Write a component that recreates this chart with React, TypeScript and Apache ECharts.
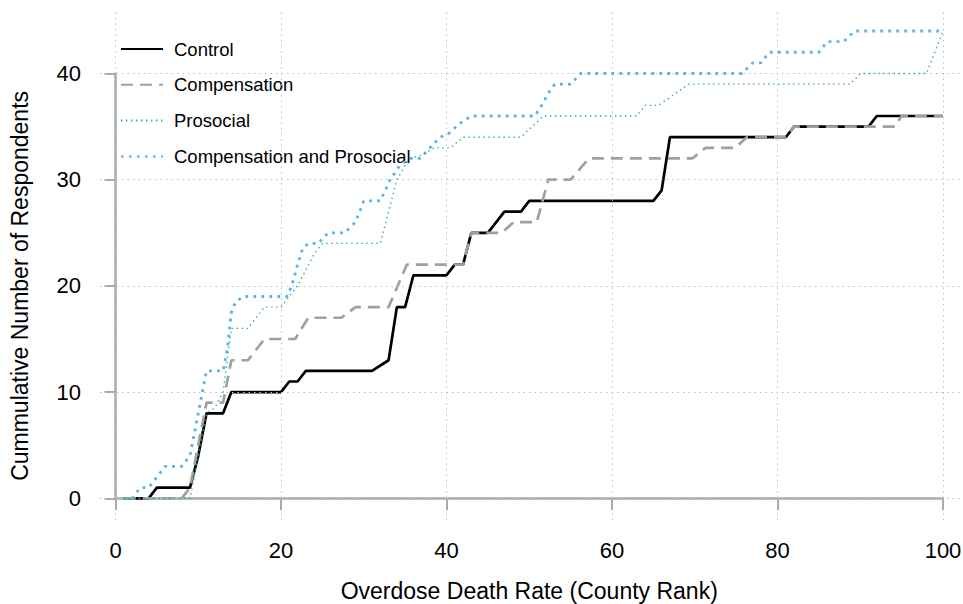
import React, { useEffect, useRef } from "react";
import * as echarts from "echarts";

// ---------- data ----------
const xTicks = [0, 20, 40, 60, 80, 100];
const yTicks = [0, 10, 20, 30, 40];
const seriesNames = ["Control", "Compensation", "Prosocial", "Compensation and Prosocial"];
const xTitle = "Overdose Death Rate (County Rank)";
const yTitle = "Cummulative Number of Respondents";

const control: number[][] = [
  [1, 0], [4, 0], [5, 1], [9, 1], [10, 4], [11, 8], [13, 8], [14, 10], [20, 10], [21, 11],
  [22, 11], [23, 12], [31, 12], [33, 13], [34, 18], [35, 18], [36, 21], [40, 21], [41, 22],
  [42, 22], [43, 25], [45, 25], [47, 27], [49, 27], [50, 28], [65, 28], [66, 29], [67, 34],
  [81, 34], [82, 35], [91, 35], [92, 36], [100, 36],
];

const compensation: number[][] = [
  [1, 0], [8, 0], [9, 1], [11, 9], [13, 9], [14, 13], [16, 13], [18, 15], [21.7, 15],
  [23.3, 17], [27.3, 17], [29, 18], [33, 18], [35.2, 22], [42, 22], [43, 25], [46.7, 25],
  [48.1, 26], [50.9, 26], [52.3, 30], [55, 30], [57.2, 32], [69.7, 32], [71.3, 33],
  [74.9, 33], [76.3, 34], [81, 34], [82, 35], [94.2, 35], [95, 36], [100, 36],
];

const prosocial: number[][] = [
  [1, 0], [9, 0], [11, 8], [12, 8.5], [13, 10], [14, 16], [16, 16], [18, 18], [20, 18],
  [22, 20], [24, 23], [25, 24], [32, 24], [34, 30], [35.5, 32], [37, 32.3], [38.5, 33],
  [40.5, 33], [42, 34], [49, 34], [51.7, 36], [63, 36], [64, 37], [65.6, 37], [69.3, 39],
  [88.8, 39], [90, 40], [98, 40], [100, 44],
];

const compProsocial: number[][] = [
  [1, 0], [2, 0], [3, 1], [4, 1], [5, 2], [6, 3], [8, 3], [9, 4], [10, 8], [11, 12],
  [13, 12], [13.5, 14], [14, 17.5], [14.5, 18.5], [15.5, 19], [20.7, 19], [21.3, 20],
  [22, 22], [22.6, 23.5], [23.3, 24], [24.5, 24], [25.7, 25], [27.7, 25], [29, 26],
  [30, 28], [32, 28], [33.2, 30], [34.4, 31.4], [35.6, 32], [36.8, 32], [38, 33],
  [39.2, 34], [40.2, 34.3], [41.6, 35.3], [43, 36], [50.7, 36], [51.5, 37], [52.5, 38.4],
  [53.1, 39], [55, 39], [56.2, 40], [75.7, 40], [77, 41], [78, 41], [79, 42], [85, 42],
  [86, 43], [88, 43], [89.3, 44], [100, 44],
];

// ---------- layout ----------
const W = 963;
const H = 604;
const plotLeft = 115.5;
const plotRight = 943;
const plotTop = 73.5;
const plotBottom = 498.3;
const extLeft = 100;
const extRight = 963;
const extTop = 12;
const extBottom = 520;

const FONT = "'Liberation Sans', Arial, Helvetica, sans-serif";

export default function App() {
  const ref = useRef<HTMLDivElement>(null);

  useEffect(() => {
    if (!ref.current) return;
    const chart = echarts.init(ref.current, undefined, { renderer: "svg" });

    const xMin = xTicks[0];
    const xMax = xTicks[xTicks.length - 1];
    const yMin = yTicks[0];
    const yMax = yTicks[yTicks.length - 1];
    const xPer = (plotRight - plotLeft) / (xMax - xMin);
    const yPer = (plotBottom - plotTop) / (yMax - yMin);
    const extXMin = xMin + (extLeft - plotLeft) / xPer;
    const extXMax = xMin + (extRight - plotLeft) / xPer;
    const extYMin = yMin - (extBottom - plotBottom) / yPer;
    const extYMax = yMin + (plotBottom - extTop) / yPer;

    const axisColor = "#A8A8A8";
    const gridLine = { color: "#BDBDBD", width: 1, type: [1.5, 4] as number[] };

    const dataSeries = (name: string, data: number[][], color: string, width: number, type: any, z: number) => ({
      name,
      type: "line",
      xAxisIndex: 1,
      yAxisIndex: 1,
      data,
      symbol: "none",
      showSymbol: false,
      z,
      lineStyle: { color, width, type },
      itemStyle: { color },
    });

    const option: any = {
      animation: false,
      backgroundColor: "#ffffff",
      textStyle: { fontFamily: FONT },
      grid: [
        {
          left: plotLeft,
          right: W - plotRight,
          top: plotTop,
          bottom: H - plotBottom,
          containLabel: false,
          outerBoundsMode: "none",
        },
        {
          left: extLeft,
          right: W - extRight,
          top: extTop,
          bottom: H - extBottom,
          containLabel: false,
          outerBoundsMode: "none",
        },
      ],
      xAxis: [
        {
          type: "value",
          gridIndex: 0,
          min: xMin,
          max: xMax,
          interval: 20,
          offset: extBottom - plotBottom,
          axisLine: { show: true, lineStyle: { color: axisColor, width: 2.5 } },
          axisTick: { show: true, length: 12, lineStyle: { color: axisColor, width: 2 } },
          axisLabel: { color: "#000", fontSize: 22, margin: 19, fontFamily: FONT },
          splitLine: { show: false },
          name: xTitle,
          nameLocation: "middle",
          nameGap: 59,
          nameTextStyle: { color: "#000", fontSize: 23, fontFamily: FONT },
        },
        {
          type: "value",
          gridIndex: 1,
          min: extXMin,
          max: extXMax,
          show: false,
          splitLine: { show: false },
        },
      ],
      yAxis: [
        {
          type: "value",
          gridIndex: 0,
          min: yMin,
          max: yMax,
          interval: 10,
          offset: plotLeft - 97,
          axisLine: { show: true, lineStyle: { color: axisColor, width: 2.5 } },
          axisTick: { show: true, length: 11, lineStyle: { color: axisColor, width: 2 } },
          axisLabel: { color: "#000", fontSize: 22, margin: 16, fontFamily: FONT },
          splitLine: { show: false },
          name: yTitle,
          nameLocation: "middle",
          nameGap: 66,
          nameRotate: 90,
          nameTextStyle: { color: "#000", fontSize: 23, fontFamily: FONT },
        },
        {
          type: "value",
          gridIndex: 1,
          min: extYMin,
          max: extYMax,
          show: false,
          splitLine: { show: false },
        },
      ],
      legend: {
        show: true,
        orient: "vertical",
        left: 120,
        top: 38,
        padding: 0,
        itemWidth: 42,
        itemHeight: 14,
        itemGap: 13.8,
        data: seriesNames,
        itemStyle: { opacity: 0, borderWidth: 0 },
        textStyle: {
          color: "#000",
          fontSize: 18.5,
          fontFamily: FONT,
          lineHeight: 22,
          padding: [0, 0, 0, 6],
        },
      },
      series: [
        {
          type: "line",
          xAxisIndex: 1,
          yAxisIndex: 1,
          data: [[0, 0]],
          symbol: "none",
          silent: true,
          z: 0,
          lineStyle: { opacity: 0 },
          markLine: {
            silent: true,
            symbol: ["none", "none"],
            label: { show: false },
            lineStyle: gridLine,
            data: [
              ...xTicks.map((v) => ({ xAxis: v })),
              ...yTicks.map((v) => ({ yAxis: v })),
            ],
          },
        },
        dataSeries(seriesNames[0], control, "#000000", 2.7, "solid", 3),
        dataSeries(seriesNames[1], compensation, "#A0A0A0", 2.7, [12, 7], 4),
        dataSeries(seriesNames[3], compProsocial, "#56B4E9", 2.8, [2.8, 5.2], 5),
        dataSeries(seriesNames[2], prosocial, "#2DB07F", 1.4, [1.4, 3.6], 6),
      ],
    };

    chart.setOption(option);
    return () => {
      chart.dispose();
    };
  }, []);

  return (
    <div
      ref={ref}
      style={{ position: "fixed", left: 0, top: 0, width: W, height: H, background: "#fff" }}
    />
  );
}
